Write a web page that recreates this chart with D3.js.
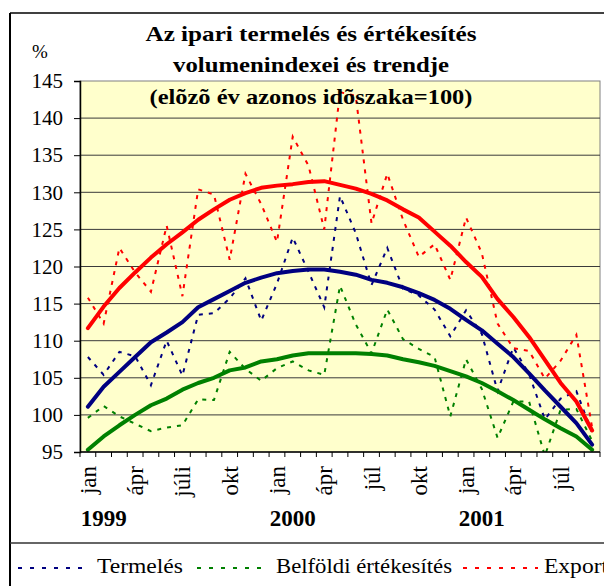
<!DOCTYPE html>
<html>
<head>
<meta charset="utf-8">
<script src="https://cdnjs.cloudflare.com/ajax/libs/d3/7.8.5/d3.min.js"></script>
<style>
body { margin: 0; background: #fff; }
text { font-family: "Liberation Serif", "Times New Roman", serif; fill: #000; }
</style>
</head>
<body>
<script>
var width = 604;
var height = 586;

// months jan 1999 .. sep 2001, only every 3rd one is labelled
var monthLabels = ["jan","","","ápr","","","júli","","","okt","","",
                   "jan","","","ápr","","","júl","","","okt","","",
                   "jan","","","ápr","","","júl","",""];
var years = ["1999", "2000", "2001"];
var yTicks = [95, 100, 105, 110, 115, 120, 125, 130, 135, 140, 145];

var termeles = [107.8, 105.4, 108.5, 107.9, 104.0, 110.0, 105.3, 113.5, 113.7, 115.7,
                118.4, 112.7, 117.7, 123.9, 119.3, 114.5, 129.5, 124.5, 117.5, 122.5,
                117.0, 116.1, 114.2, 110.6, 114.1, 110.9, 103.2, 109.1, 105.5, 99.4,
                102.2, 103.2, 97.6];
var belfoldi = [99.6, 101.2, 99.8, 98.8, 97.8, 98.3, 98.6, 102.1, 102.0, 108.5,
                106.2, 104.6, 106.3, 107.2, 106.0, 105.4, 117.4, 112.2, 108.3, 114.2,
                110.2, 108.9, 107.8, 99.8, 107.5, 103.5, 96.9, 101.8, 101.8, 94.5,
                100.7, 100.8, 96.5];
var export_ = [115.8, 112.3, 122.5, 119.2, 116.6, 125.5, 116.0, 130.4, 129.7, 120.9,
               132.5, 128.4, 123.3, 137.5, 133.6, 125.0, 143.5, 143.0, 125.8, 132.5,
               126.3, 121.3, 123.0, 118.2, 126.6, 121.8, 112.3, 109.0, 108.6, 104.9,
               107.3, 110.8, 98.3];

var termelesTrend = [101.1, 103.8, 105.8, 107.8, 109.8, 111.1, 112.5, 114.5, 115.6, 116.7,
                     117.8, 118.5, 119.1, 119.4, 119.6, 119.6, 119.3, 118.9, 118.2, 117.8,
                     117.2, 116.4, 115.5, 114.3, 112.8, 111.4, 109.6, 107.8, 105.6, 103.3,
                     101.1, 98.9, 96.0];
var belfoldiTrend = [95.3, 97.1, 98.6, 100.0, 101.3, 102.2, 103.4, 104.3, 105.0, 106.0,
                     106.4, 107.2, 107.5, 108.0, 108.3, 108.3, 108.3, 108.3, 108.2, 108.0,
                     107.5, 107.1, 106.6, 105.9, 105.2, 104.3, 103.2, 102.0, 100.7, 99.4,
                     98.2, 97.1, 95.3];
var exportTrend = [111.7, 114.6, 117.1, 119.2, 121.2, 123.0, 124.6, 126.3, 127.7, 129.0,
                   129.9, 130.6, 130.9, 131.1, 131.4, 131.5, 131.0, 130.5, 129.8, 128.9,
                   127.7, 126.6, 124.7, 122.8, 120.6, 118.6, 115.6, 113.2, 110.5, 107.4,
                   104.3, 101.8, 97.9];

var seriesNames = ["Termelés", "Belföldi értékesítés", "Export"];
var seriesColors = ["#000080", "#008000", "#ff0000"];

var canvas = d3.select("body")
    .append("svg")
    .attr("width", width)
    .attr("height", height);

var plotLeft = 80, plotRight = 600, plotTop = 81, plotBottom = 452;

var idx = monthLabels.map(function(d, i) { return i; });
var x = d3.scaleBand().domain(idx).range([plotLeft, plotRight]);
var y = d3.scaleLinear().domain([95, 145]).range([plotBottom, plotTop]);
var cx = function(i) { return x(i) + x.bandwidth() / 2; };

// outer frame
canvas.append("line").attr("x1", 10).attr("y1", 13).attr("x2", 604).attr("y2", 13)
    .attr("stroke", "#000").attr("stroke-width", 1.5);
canvas.append("line").attr("x1", 10).attr("y1", 13).attr("x2", 10).attr("y2", 586)
    .attr("stroke", "#000").attr("stroke-width", 2);
canvas.append("line").attr("x1", 10).attr("y1", 543).attr("x2", 604).attr("y2", 543)
    .attr("stroke", "#333").attr("stroke-width", 1.5);

// plot area
canvas.append("rect")
    .attr("x", plotLeft).attr("y", plotTop)
    .attr("width", plotRight - plotLeft).attr("height", plotBottom - plotTop)
    .attr("fill", "#ffffcc")
    .attr("stroke", "#808080");

canvas.append("g").selectAll("line")
    .data(yTicks.slice(1, -1))
    .enter().append("line")
    .attr("x1", plotLeft).attr("x2", plotRight)
    .attr("y1", function(d) { return y(d); })
    .attr("y2", function(d) { return y(d); })
    .attr("stroke", "#3a3a3a").attr("stroke-width", 1);

// series
canvas.append("clipPath").attr("id", "plotClip")
    .append("rect")
    .attr("x", plotLeft).attr("y", plotTop)
    .attr("width", plotRight - plotLeft).attr("height", plotBottom - plotTop);

var line = d3.line()
    .x(function(d, i) { return cx(i); })
    .y(function(d) { return y(d); });

var plot = canvas.append("g").attr("clip-path", "url(#plotClip)");

[termeles, belfoldi, export_].forEach(function(s, k) {
    plot.append("path")
        .attr("d", line(s))
        .attr("fill", "none")
        .attr("stroke", seriesColors[k])
        .attr("stroke-width", 2)
        .attr("stroke-dasharray", "4,6");
});

[termelesTrend, belfoldiTrend, exportTrend].forEach(function(s, k) {
    plot.append("path")
        .attr("d", line(s))
        .attr("fill", "none")
        .attr("stroke", seriesColors[k])
        .attr("stroke-width", 4)
        .attr("stroke-linejoin", "round")
        .attr("stroke-linecap", "round");
});

// title (drawn over the plot, like the original)
var titleLines = [
    ["Az ipari termelés és értékesítés", 41, 331],
    ["volumenindexei és trendje", 72, 276],
    ["(elõzõ év azonos idõszaka=100)", 104, 323]
];
titleLines.forEach(function(t) {
    canvas.append("text")
        .attr("x", 311).attr("y", t[1])
        .attr("text-anchor", "middle")
        .attr("font-size", 22).attr("font-weight", "bold")
        .attr("textLength", t[2]).attr("lengthAdjust", "spacingAndGlyphs")
        .text(t[0]);
});

canvas.append("text")
    .attr("x", 40).attr("y", 58)
    .attr("text-anchor", "middle")
    .attr("font-size", 19)
    .text("%");

// y axis
var yAxis = canvas.append("g")
    .attr("transform", "translate(" + plotLeft + ",0)")
    .call(d3.axisLeft(y).tickValues(yTicks).tickSize(6).tickPadding(11));
yAxis.select(".domain").attr("stroke", "#000").attr("stroke-width", 1.5);
yAxis.selectAll(".tick line").attr("stroke", "#000");
yAxis.selectAll("text")
    .attr("font-family", "Liberation Serif")
    .attr("font-size", 21)
    .attr("fill", "#000");

// x axis
canvas.append("line")
    .attr("x1", plotLeft).attr("x2", plotRight)
    .attr("y1", plotBottom).attr("y2", plotBottom)
    .attr("stroke", "#000").attr("stroke-width", 1.5);

canvas.append("g").selectAll("line")
    .data(idx.concat([idx.length]))
    .enter().append("line")
    .attr("x1", function(i) { return plotLeft + i * x.step(); })
    .attr("x2", function(i) { return plotLeft + i * x.step(); })
    .attr("y1", plotBottom).attr("y2", plotBottom + 5)
    .attr("stroke", "#000");

canvas.append("g").selectAll("text")
    .data(idx.filter(function(i) { return monthLabels[i] !== ""; }))
    .enter().append("text")
    .attr("transform", function(i) { return "translate(" + cx(i) + ",466) rotate(-90)"; })
    .attr("text-anchor", "end")
    .attr("dy", "0.35em")
    .attr("font-size", 23)
    .text(function(i) { return monthLabels[i]; });

canvas.append("g").selectAll("text")
    .data(years)
    .enter().append("text")
    .attr("x", function(d, k) { return cx(k * 12 + 1); })
    .attr("y", 526)
    .attr("text-anchor", "middle")
    .attr("font-size", 23)
    .attr("font-weight", "bold")
    .text(function(d) { return d; });

// legend
var legendPos = [[18, 90, 97, 86], [197, 268, 276, 176], [463, 538, 544, 64]];
seriesNames.forEach(function(name, k) {
    var p = legendPos[k];
    canvas.append("line")
        .attr("x1", p[0]).attr("x2", p[1])
        .attr("y1", 568).attr("y2", 568)
        .attr("stroke", seriesColors[k])
        .attr("stroke-width", 2)
        .attr("stroke-dasharray", "4,8");
    canvas.append("text")
        .attr("x", p[2]).attr("y", 573)
        .attr("font-size", 21)
        .attr("textLength", p[3]).attr("lengthAdjust", "spacingAndGlyphs")
        .text(name);
});
</script>
</body>
</html>
